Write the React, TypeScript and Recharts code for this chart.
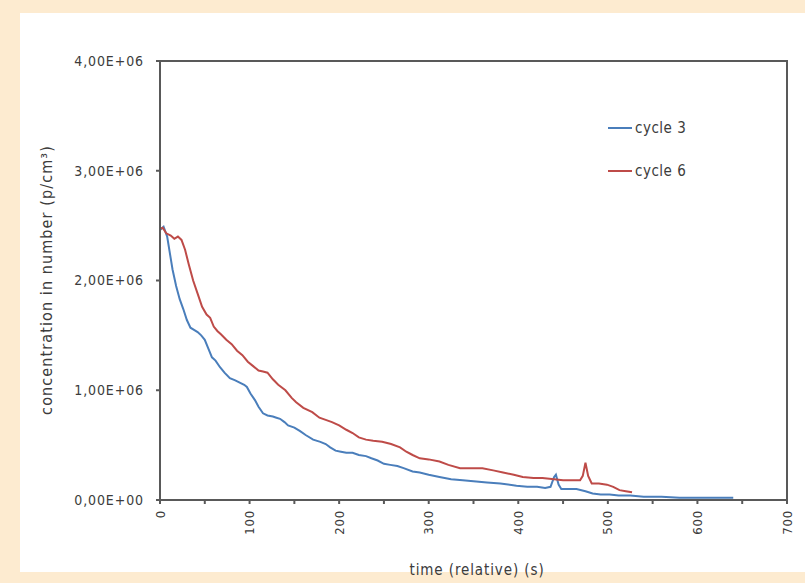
import React from 'react';
import { LineChart, Line, XAxis, YAxis, ReferenceArea } from 'recharts';

// time (s) and concentration (p/cm³)
const cycle3Time = [
  0, 4, 8, 11, 14, 18, 22, 26, 30, 34, 38, 42, 46, 50, 54, 58, 62, 67, 72, 78, 84, 89, 94, 97,
  101, 106, 110, 115, 120, 126, 130, 134, 139, 143, 150, 156, 163, 171, 179, 185, 190, 196,
  202, 208, 215, 222, 230, 236, 243, 250, 257, 265, 272, 282, 290, 300, 312, 325, 338, 350,
  365, 380, 398, 410, 421, 430, 436, 440, 442, 445, 448, 455, 465, 475, 483, 492, 502, 512,
  525, 540, 560, 580, 600, 620, 640,
];
const cycle3Values = [
  2.46e6, 2.49e6, 2.4e6, 2.25e6, 2.1e6, 1.95e6, 1.83e6, 1.74e6, 1.64e6, 1.57e6, 1.55e6, 1.53e6,
  1.5e6, 1.46e6, 1.38e6, 1.3e6, 1.27e6, 1.21e6, 1.16e6, 1.11e6, 1.09e6, 1.07e6, 1.05e6, 1.03e6,
  0.97e6, 0.91e6, 0.85e6, 0.79e6, 0.77e6, 0.76e6, 0.75e6, 0.74e6, 0.71e6, 0.68e6, 0.66e6, 0.63e6,
  0.59e6, 0.55e6, 0.53e6, 0.51e6, 0.48e6, 0.45e6, 0.44e6, 0.43e6, 0.43e6, 0.41e6, 0.4e6, 0.38e6,
  0.36e6, 0.33e6, 0.32e6, 0.31e6, 0.29e6, 0.26e6, 0.25e6, 0.23e6, 0.21e6, 0.19e6, 0.18e6, 0.17e6,
  0.16e6, 0.15e6, 0.13e6, 0.12e6, 0.12e6, 0.11e6, 0.12e6, 0.21e6, 0.23e6, 0.14e6, 0.1e6, 0.1e6,
  0.1e6, 0.08e6, 0.06e6, 0.05e6, 0.05e6, 0.04e6, 0.04e6, 0.03e6, 0.03e6, 0.02e6, 0.02e6, 0.02e6,
  0.02e6,
];

const cycle6Time = [
  0, 3, 7, 12, 16, 20, 24, 28, 32, 37, 42, 47, 52, 56, 60, 64, 68, 74, 80, 86, 92, 98, 104, 110,
  115, 120, 126, 132, 140, 147, 152, 160, 170, 178, 185, 192, 200, 208, 215, 222, 230, 238, 248,
  258, 268, 275, 282, 290, 300, 312, 322, 335, 348, 360, 372, 383, 395, 405, 417, 427, 440, 450,
  460, 469, 472, 475, 478, 482, 490, 499, 506, 513, 520, 527,
];
const cycle6Values = [
  2.47e6, 2.48e6, 2.43e6, 2.41e6, 2.38e6, 2.4e6, 2.37e6, 2.28e6, 2.15e6, 2.0e6, 1.88e6, 1.76e6,
  1.69e6, 1.66e6, 1.58e6, 1.54e6, 1.51e6, 1.46e6, 1.42e6, 1.36e6, 1.32e6, 1.26e6, 1.22e6, 1.18e6,
  1.17e6, 1.16e6, 1.1e6, 1.05e6, 1.0e6, 0.93e6, 0.89e6, 0.84e6, 0.8e6, 0.75e6, 0.73e6, 0.71e6,
  0.68e6, 0.64e6, 0.61e6, 0.57e6, 0.55e6, 0.54e6, 0.53e6, 0.51e6, 0.48e6, 0.44e6, 0.41e6, 0.38e6,
  0.37e6, 0.35e6, 0.32e6, 0.29e6, 0.29e6, 0.29e6, 0.27e6, 0.25e6, 0.23e6, 0.21e6, 0.2e6, 0.2e6,
  0.19e6, 0.18e6, 0.18e6, 0.18e6, 0.22e6, 0.34e6, 0.22e6, 0.15e6, 0.15e6, 0.14e6, 0.12e6, 0.09e6,
  0.08e6, 0.07e6,
];

const xTicks = [0, 50, 100, 150, 200, 250, 300, 350, 400, 450, 500, 550, 600, 650, 700];
const yTicks = [0, 1e6, 2e6, 3e6, 4e6];

const cycle3 = cycle3Time.map((t, i) => ({ t, v: cycle3Values[i] }));
const cycle6 = cycle6Time.map((t, i) => ({ t, v: cycle6Values[i] }));

const FONT = "'DejaVu Sans Condensed', 'Open Sans', sans-serif";
const TEXT = '#3c3c3c';
const AXIS = '#595959';
const BLUE = '#4a7ebb';
const RED = '#be4b48';

const fmtY = (v: number) => {
  if (v === 0) return '0,00E+00';
  return (v / 1e6).toFixed(2).replace('.', ',') + 'E+06';
};

const XTick = (props: any) => {
  const { x, y, payload } = props;
  if (payload.value % 100 !== 0) return null;
  return (
    <text
      x={x}
      y={y}
      transform={`rotate(-90, ${x}, ${y})`}
      textAnchor="end"
      dominantBaseline="central"
      fontSize={13}
      letterSpacing={0.8}
      fontFamily={FONT}
      fill={TEXT}
    >
      {payload.value}
    </text>
  );
};

const legendItems = [
  { name: 'cycle 3', color: BLUE },
  { name: 'cycle 6', color: RED },
];

export default function App() {
  return (
    <div style={{ position: 'fixed', left: 0, top: 0, width: 805, height: 583, background: '#fdebd0' }}>
      <div style={{ position: 'absolute', left: 20, top: 13, width: 785, height: 559, background: '#ffffff' }} />
      <div style={{ position: 'absolute', left: 0, top: 0 }}>
        <LineChart width={805} height={583} margin={{ top: 61, right: 18, bottom: 0, left: 60 }}>
          <XAxis
            dataKey="t"
            type="number"
            domain={[0, 700]}
            ticks={xTicks}
            interval={0}
            allowDuplicatedCategory={false}
            height={83}
            axisLine={{ stroke: AXIS, strokeWidth: 2 }}
            tickLine={{ stroke: AXIS, strokeWidth: 2 }}
            tickSize={4}
            tickMargin={6}
            tick={<XTick />}
            label={{
              content: () => (
                <text x={477} y={575} textAnchor="middle" fontSize={15} letterSpacing={0.9} fontFamily={FONT} fill={TEXT}>
                  time (relative) (s)
                </text>
              ),
            }}
          />
          <YAxis
            dataKey="v"
            type="number"
            domain={[0, 4e6]}
            ticks={yTicks}
            interval={0}
            width={100}
            tickFormatter={fmtY}
            axisLine={{ stroke: AXIS, strokeWidth: 2 }}
            tickLine={{ stroke: AXIS, strokeWidth: 2 }}
            tickSize={4}
            tickMargin={12}
            tick={{ fontSize: 14, fontFamily: FONT, fill: TEXT, letterSpacing: 0.9 }}
            label={{
              content: () => (
                <text
                  x={46}
                  y={280}
                  transform="rotate(-90, 46, 280)"
                  textAnchor="middle"
                  dominantBaseline="central"
                  fontSize={16}
                  letterSpacing={1.1}
                  fontFamily={FONT}
                  fill={TEXT}
                >
                  concentration in number (p/cm³)
                </text>
              ),
            }}
          />
          <ReferenceArea x1={0} x2={700} y1={0} y2={4e6} fill="none" stroke={AXIS} strokeWidth={2} ifOverflow="visible" />
          <Line data={cycle3} dataKey="v" name="cycle 3" type="linear" stroke={BLUE} strokeWidth={2} dot={false} isAnimationActive={false} />
          <Line data={cycle6} dataKey="v" name="cycle 6" type="linear" stroke={RED} strokeWidth={2} dot={false} isAnimationActive={false} />
        </LineChart>
      </div>
      <div style={{ position: 'absolute', top: 117, left: 608, fontFamily: FONT, fontSize: 15, letterSpacing: 0.5, color: TEXT }}>
        {legendItems.map((s) => (
          <div key={s.name} style={{ display: 'flex', alignItems: 'center', height: 22, marginBottom: 21 }}>
            <span style={{ display: 'inline-block', width: 24, height: 2, background: s.color, marginRight: 3 }} />
            <span>{s.name}</span>
          </div>
        ))}
      </div>
    </div>
  );
}
